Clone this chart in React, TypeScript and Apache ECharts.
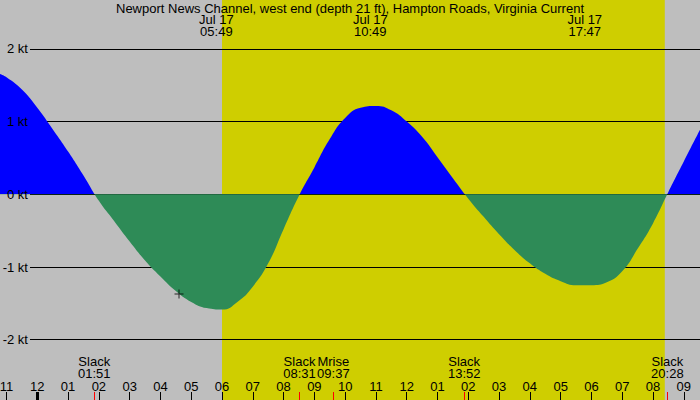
import React, { useEffect, useRef } from "react";
import * as echarts from "echarts";

const TITLE = "Newport News Channel, west end (depth 21 ft), Hampton Roads, Virginia Current";

// time in hours from midnight Jul 17, current in knots
const times = [-1.212, -1.0, -0.5, 0, 0.5, 1, 1.5, 2, 2.5, 3, 3.5, 4, 4.5, 5, 5.5, 6, 6.5, 7, 7.5, 8, 8.5, 9, 9.5, 10, 10.5, 11, 11.5, 12, 12.5, 13, 13.5, 14, 14.5, 15, 15.5, 16, 16.5, 17, 17.5, 18, 18.5, 19, 19.5, 20, 20.5, 21, 21.53];
const speeds = [1.655, 1.61, 1.44, 1.19, 0.895, 0.59, 0.26, -0.09, -0.37, -0.65, -0.91, -1.13, -1.33, -1.48, -1.565, -1.585, -1.48, -1.27, -0.95, -0.48, -0.02, 0.37, 0.76, 1.05, 1.19, 1.215, 1.155, 1.0, 0.79, 0.51, 0.22, -0.06, -0.31, -0.55, -0.765, -0.95, -1.094, -1.195, -1.25, -1.25, -1.21, -1.06, -0.75, -0.4, 0.03, 0.45, 0.89];

const hourTickValues = [-1, 0, 1, 2, 3, 4, 5, 6, 7, 8, 9, 10, 11, 12, 13, 14, 15, 16, 17, 18, 19, 20, 21];
const hourTickLabels = ["11", "12", "01", "02", "03", "04", "05", "06", "07", "08", "09", "10", "11", "12", "01", "02", "03", "04", "05", "06", "07", "08", "09"];
const midnightTicks = [0];

const eventHours = [1.85, 8.517, 9.617, 13.867, 20.467];
const eventNames = ["Slack", "Slack", "Mrise", "Slack", "Slack"];
const eventTimes = ["01:51", "08:31", "09:37", "13:52", "20:28"];

const maxHours = [5.817, 10.817, 17.783];
const maxDates = ["Jul 17", "Jul 17", "Jul 17"];
const maxTimes = ["05:49", "10:49", "17:47"];

const speedTicks = [-2, -1, 0, 1, 2];
const gridLevels = [-2, -1, 1, 2];

const daylight = [6.0, 20.383];
const markerPoint = [[4.603, -1.371]];

const X_MIN = -1.2116;
const X_MAX = 21.527;
const Y_MIN = -2.8294;
const Y_MAX = 2.6726;

const FONT = "Liberation Sans, Arial, sans-serif";
const FS = 13;

export default function App() {
  const ref = useRef<HTMLDivElement>(null);
  useEffect(() => {
    const chart = echarts.init(ref.current!, null, { renderer: "svg" });
    const data = times.map((t, i) => [t, speeds[i]]);
    const findIdx = (arr: number[], v: number) => {
      let best = 0;
      arr.forEach((a, i) => {
        if (Math.abs(a - v) < Math.abs(arr[best] - v)) best = i;
      });
      return best;
    };
    const baseX = {
      type: "value",
      gridIndex: 0,
      min: X_MIN,
      max: X_MAX,
      z: 20,
      axisLine: { show: false, onZero: false },
      splitLine: { show: false },
    };
    chart.setOption({
      animation: false,
      backgroundColor: "#bebebe",
      textStyle: { fontFamily: FONT },
      title: {
        text: TITLE,
        left: "center",
        top: 2,
        padding: 0,
        z: 20,
        textStyle: { fontSize: FS, lineHeight: 12, fontWeight: "normal", color: "#000", fontFamily: FONT },
      },
      grid: [
        { left: 0, right: 0, top: 0, bottom: 0, containLabel: false, outerBoundsMode: "none" },
        { left: 30, right: 0, top: 0, bottom: 0, containLabel: false, outerBoundsMode: "none" },
      ],
      visualMap: {
        type: "piecewise",
        show: false,
        seriesIndex: 0,
        dimension: 1,
        pieces: [
          { gte: -10, lt: 0, color: "#2e8b57" },
          { gte: 0, lte: 10, color: "#0000ff" },
        ],
      },
      xAxis: [
        {
          ...baseX,
          position: "bottom",
          axisTick: { show: true, inside: true, length: 8, customValues: hourTickValues, lineStyle: { color: "#000", width: 1 } },
          axisLabel: {
            show: true,
            inside: true,
            margin: 8,
            customValues: hourTickValues,
            fontSize: FS,
            lineHeight: 12,
            color: "#000",
            fontFamily: FONT,
            formatter: (v: number) => hourTickLabels[findIdx(hourTickValues, v)],
          },
        },
        {
          ...baseX,
          position: "bottom",
          axisTick: { show: true, inside: true, length: 8, customValues: eventHours, lineStyle: { color: "#ff0000", width: 1 } },
          axisLabel: {
            show: true,
            inside: true,
            margin: 20.5,
            customValues: eventHours,
            fontSize: FS,
            lineHeight: 12,
            color: "#000",
            fontFamily: FONT,
            formatter: (v: number) => {
              const i = findIdx(eventHours, v);
              return eventNames[i] + "\n" + eventTimes[i];
            },
          },
        },
        {
          ...baseX,
          position: "bottom",
          axisTick: { show: true, inside: true, length: 8, customValues: midnightTicks, lineStyle: { color: "#000", width: 3 } },
          axisLabel: { show: false },
        },
        {
          ...baseX,
          position: "top",
          axisTick: { show: false },
          axisLabel: {
            show: true,
            inside: true,
            margin: 13.5,
            customValues: maxHours,
            fontSize: FS,
            lineHeight: 12,
            color: "#000",
            fontFamily: FONT,
            formatter: (v: number) => {
              const i = findIdx(maxHours, v);
              return maxDates[i] + "\n" + maxTimes[i];
            },
          },
        },
        {
          type: "value",
          gridIndex: 1,
          min: 0,
          max: 1,
          show: false,
        },
      ],
      yAxis: [
        { type: "value", gridIndex: 0, min: Y_MIN, max: Y_MAX, show: false },
        {
          type: "value",
          gridIndex: 1,
          min: Y_MIN,
          max: Y_MAX,
          z: 20,
          axisLine: { show: false, onZero: false },
          axisTick: { show: false },
          splitLine: { show: false },
          axisLabel: {
            show: true,
            margin: 2,
            customValues: speedTicks,
            fontSize: FS,
            color: "#000",
            fontFamily: FONT,
            formatter: (v: number) => `${Math.round(v)} kt`,
          },
        },
      ],
      series: [
        {
          type: "line",
          xAxisIndex: 0,
          yAxisIndex: 0,
          data,
          smooth: 0.5,
          symbol: "none",
          lineStyle: { width: 0 },
          areaStyle: { origin: 0, opacity: 1 },
          z: 5,
          silent: true,
        },
        {
          type: "line",
          xAxisIndex: 0,
          yAxisIndex: 0,
          data: [],
          z: 0,
          silent: true,
          markArea: {
            silent: true,
            itemStyle: { color: "#cfce00" },
            data: [[{ xAxis: daylight[0] }, { xAxis: daylight[1] }]],
          },
        },
        {
          type: "line",
          xAxisIndex: 4,
          yAxisIndex: 1,
          data: [],
          z: 2,
          silent: true,
          markLine: {
            silent: true,
            symbol: "none",
            label: { show: false },
            lineStyle: { color: "#000", width: 1, type: "solid" },
            data: gridLevels.map((v) => ({ yAxis: v })),
          },
        },
        {
          type: "line",
          xAxisIndex: 4,
          yAxisIndex: 1,
          data: [],
          z: 8,
          silent: true,
          markLine: {
            silent: true,
            symbol: "none",
            label: { show: false },
            lineStyle: { color: "#000", width: 1, type: "solid" },
            data: [{ yAxis: 0 }],
          },
        },
        {
          type: "scatter",
          xAxisIndex: 0,
          yAxisIndex: 0,
          data: markerPoint,
          symbol: "path://M0,4h9v1h-9z M4,0h1v9h-1z",
          symbolSize: 9,
          itemStyle: { color: "#000" },
          z: 9,
          silent: true,
        },
      ],
    });
    return () => chart.dispose();
  }, []);
  return <div ref={ref} style={{ position: "absolute", left: 0, top: 0, width: 700, height: 400 }} />;
}
